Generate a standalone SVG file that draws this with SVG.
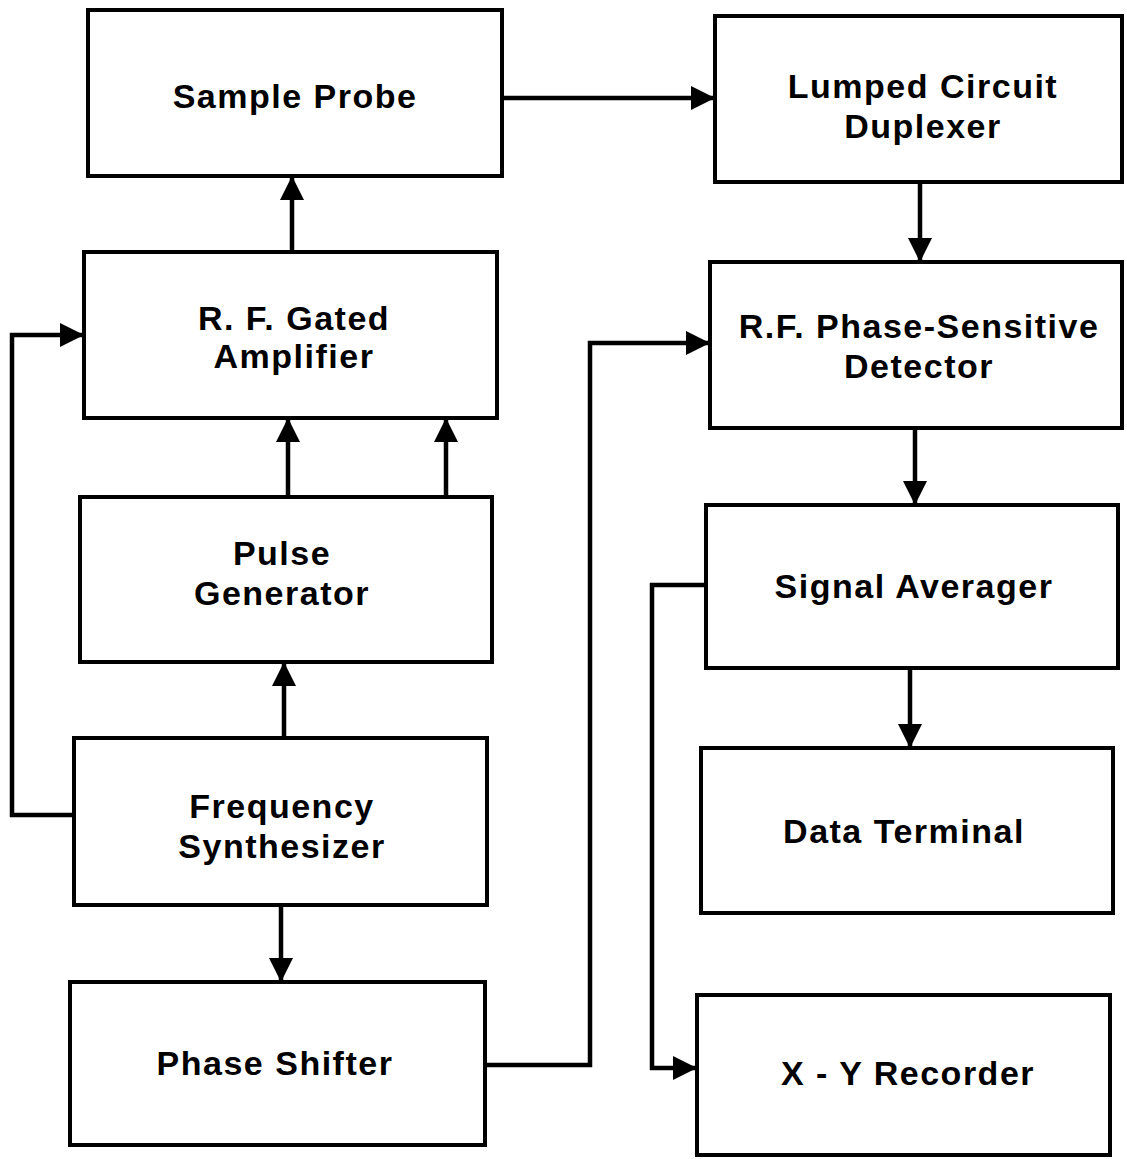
<svg xmlns="http://www.w3.org/2000/svg" width="1127" height="1159" viewBox="0 0 1127 1159">
<style>
.box{fill:#fff;stroke:#000;stroke-width:4}
.lbl{font-family:"Liberation Sans",Arial,sans-serif;font-weight:bold;font-size:34px;letter-spacing:1.5px;text-anchor:middle;fill:#000}
.con{fill:none;stroke:#000;stroke-width:4.5;marker-end:url(#ah)}
</style>
<defs>
<marker id="ah" viewBox="0 0 10 10" refX="10" refY="5" markerUnits="userSpaceOnUse" markerWidth="24" markerHeight="26" orient="auto">
<path d="M0,0 L10,5 L0,10 z" fill="#000"/>
</marker>
</defs>
<rect width="1127" height="1159" fill="#fff"/>
<g id="connectors">
<path class="con" d="M502,98 H715"/>
<path class="con" d="M292,252 V176"/>
<path class="con" d="M288,497 V418"/>
<path class="con" d="M446,500 V418"/>
<path class="con" d="M284,738 V662"/>
<path class="con" d="M74,815 H12 V335 H84"/>
<path class="con" d="M281,905 V982"/>
<path class="con" d="M485,1065 H590 V343 H710"/>
<path class="con" d="M920,182 V262"/>
<path class="con" d="M915,428 V505"/>
<path class="con" d="M706,585 H652 V1068 H697"/>
<path class="con" d="M910,668 V748"/>
</g>
<g id="sample-probe">
<rect class="box" x="88" y="10" width="414" height="166"/>
<text class="lbl" x="295" y="108">Sample Probe</text>
</g>
<g id="lumped-circuit-duplexer">
<rect class="box" x="715" y="16" width="407" height="166"/>
<text class="lbl" x="923" y="98">Lumped Circuit</text>
<text class="lbl" x="923" y="138">Duplexer</text>
</g>
<g id="rf-gated-amplifier">
<rect class="box" x="84" y="252" width="413" height="166"/>
<text class="lbl" x="294" y="330">R. F. Gated</text>
<text class="lbl" x="294" y="368">Amplifier</text>
</g>
<g id="rf-phase-sensitive-detector">
<rect class="box" x="710" y="262" width="412" height="166"/>
<text class="lbl" x="919" y="338">R.F. Phase-Sensitive</text>
<text class="lbl" x="919" y="378">Detector</text>
</g>
<g id="pulse-generator">
<rect class="box" x="80" y="497" width="412" height="165"/>
<text class="lbl" x="282" y="565">Pulse</text>
<text class="lbl" x="282" y="605">Generator</text>
</g>
<g id="signal-averager">
<rect class="box" x="706" y="505" width="412" height="163"/>
<text class="lbl" x="914" y="598">Signal Averager</text>
</g>
<g id="frequency-synthesizer">
<rect class="box" x="74" y="738" width="413" height="167"/>
<text class="lbl" x="282" y="818">Frequency</text>
<text class="lbl" x="282" y="858">Synthesizer</text>
</g>
<g id="data-terminal">
<rect class="box" x="701" y="748" width="412" height="165"/>
<text class="lbl" x="904" y="843">Data Terminal</text>
</g>
<g id="phase-shifter">
<rect class="box" x="70" y="982" width="415" height="163"/>
<text class="lbl" x="275" y="1075">Phase Shifter</text>
</g>
<g id="xy-recorder">
<rect class="box" x="697" y="995" width="413" height="160"/>
<text class="lbl" x="908" y="1085">X - Y Recorder</text>
</g>
</svg>
